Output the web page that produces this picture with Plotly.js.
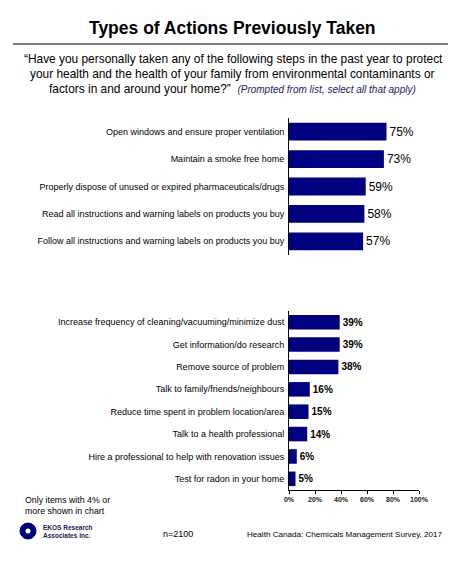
<!DOCTYPE html>
<html><head><meta charset="utf-8">
<script src="https://cdn.plot.ly/plotly-3.0.1.min.js"></script>
<style>html,body{margin:0;padding:0;background:#fff}#chart{width:475px;height:575px}</style>
</head><body><div id="chart"></div>
<script>
const topCategories = [
  "Open windows and ensure proper ventilation",
  "Maintain a smoke free home",
  "Properly dispose of unused or expired pharmaceuticals/drugs",
  "Read all instructions and warning labels on products you buy",
  "Follow all instructions and warning labels on products you buy"
];
const topValues = [75, 73, 59, 58, 57];

const bottomCategories = [
  "Increase frequency of cleaning/vacuuming/minimize dust",
  "Get information/do research",
  "Remove source of problem",
  "Talk to family/friends/neighbours",
  "Reduce time spent in problem location/area",
  "Talk to a health professional",
  "Hire a professional to help with renovation issues",
  "Test for radon in your home"
];
const bottomValues = [39, 39, 38, 16, 15, 14, 6, 5];

const xTickValues = [0, 20, 40, 60, 80, 100];
const xTickLabels = ["0%", "20%", "40%", "60%", "80%", "100%"];

const W = 475, H = 575;
const px = x => x / W;
const py = y => 1 - y / H;
const SANS = "'Liberation Sans', Arial, sans-serif";
const NAVY = "#000080";

const traces = [
  {
    type: 'bar', orientation: 'h',
    x: topValues, y: topCategories,
    xaxis: 'x', yaxis: 'y',
    marker: {color: NAVY},
    text: topValues.map(v => v + '%'),
    textposition: 'outside',
    textfont: {family: SANS, size: 12, color: '#000'},
    cliponaxis: false, hoverinfo: 'none'
  },
  {
    type: 'bar', orientation: 'h',
    x: bottomValues, y: bottomCategories,
    xaxis: 'x2', yaxis: 'y2',
    marker: {color: NAVY},
    text: bottomValues.map(v => v + '%'),
    textposition: 'outside',
    textfont: {family: SANS, size: 10, color: '#000', weight: 'bold'},
    cliponaxis: false, hoverinfo: 'none'
  }
];

const layout = {
  width: W, height: H,
  margin: {l: 0, r: 0, t: 0, b: 0},
  paper_bgcolor: '#fff', plot_bgcolor: '#fff',
  showlegend: false,
  bargap: 0.35,
  xaxis: {
    domain: [px(289), px(419)], range: [0, 100], visible: false, fixedrange: true
  },
  yaxis: {
    domain: [py(255), py(118)], autorange: 'reversed', type: 'category',
    showline: true, linecolor: '#000', linewidth: 1, ticks: '',
    showgrid: false, zeroline: false,
    tickfont: {family: SANS, size: 9, color: '#000'},
    ticklabelstandoff: 2
  },
  xaxis2: {
    anchor: 'y2',
    domain: [px(289), px(419)], range: [0, 100],
    showline: true, linecolor: '#000', linewidth: 1,
    ticks: 'outside', ticklen: 3, tickcolor: '#000', tickwidth: 1,
    tickvals: xTickValues, ticktext: xTickLabels,
    tickfont: {family: SANS, size: 7, color: '#222', weight: 'bold'},
    showgrid: false, zeroline: false
  },
  yaxis2: {
    anchor: 'x2',
    domain: [py(490), py(311)], autorange: 'reversed', type: 'category',
    showline: true, linecolor: '#000', linewidth: 1, ticks: '',
    showgrid: false, zeroline: false,
    tickfont: {family: SANS, size: 9, color: '#000'},
    ticklabelstandoff: 2
  },
  shapes: [
    {type: 'line', xref: 'paper', yref: 'paper', x0: px(13), x1: px(448), y0: py(44), y1: py(44),
     line: {color: '#000', width: 1.2}},
    // logo
    {type: 'circle', xref: 'paper', yref: 'paper', x0: px(20), x1: px(36), y0: py(539), y1: py(523),
     fillcolor: NAVY, line: {color: NAVY, width: 1}},
    {type: 'circle', xref: 'paper', yref: 'paper', x0: px(25.5), x1: px(30.5), y0: py(533.5), y1: py(528.5),
     fillcolor: '#fff', line: {width: 0}}
  ],
  annotations: [
    {xref: 'paper', yref: 'paper', x: px(232), y: py(28), xanchor: 'center', yanchor: 'middle',
     text: 'Types of Actions Previously Taken', showarrow: false,
     font: {family: SANS, size: 17.5, color: '#000', weight: 'bold'}},
    {xref: 'paper', yref: 'paper', x: px(233), y: py(59), xanchor: 'center', yanchor: 'middle',
     text: '“Have you personally taken any of the following steps in the past year to protect', showarrow: false,
     font: {family: SANS, size: 11.9, color: '#000'}},
    {xref: 'paper', yref: 'paper', x: px(232.5), y: py(74), xanchor: 'center', yanchor: 'middle',
     text: 'your health and the health of your family from environmental contaminants or', showarrow: false,
     font: {family: SANS, size: 11.9, color: '#000'}},
    {xref: 'paper', yref: 'paper', x: px(232), y: py(89), xanchor: 'center', yanchor: 'middle',
     text: 'factors in and around your home?”  <i><span style="font-size:10px;color:#1a1a70">(Prompted from list, select all that apply)</span></i>', showarrow: false,
     font: {family: SANS, size: 11.9, color: '#000'}},
    {xref: 'paper', yref: 'paper', x: px(23), y: py(505), xanchor: 'left', yanchor: 'middle', align: 'left',
     text: 'Only items with 4% or<br>more shown in chart', showarrow: false,
     font: {family: SANS, size: 8.8, color: '#000'}},
    {xref: 'paper', yref: 'paper', x: px(41), y: py(531), xanchor: 'left', yanchor: 'middle', align: 'left',
     text: 'EKOS Research<br>Associates Inc.', showarrow: false,
     font: {family: SANS, size: 6.5, color: '#1a1a50', weight: 'bold'}},
    {xref: 'paper', yref: 'paper', x: px(178), y: py(534), xanchor: 'center', yanchor: 'middle',
     text: 'n=2100', showarrow: false,
     font: {family: SANS, size: 9, color: '#000'}},
    {xref: 'paper', yref: 'paper', x: px(445), y: py(534), xanchor: 'right', yanchor: 'middle',
     text: 'Health Canada: Chemicals Management Survey, 2017', showarrow: false,
     font: {family: SANS, size: 8.1, color: '#000'}}
  ]
};

Plotly.newPlot('chart', traces, layout, {displayModeBar: false, staticPlot: true});
</script>
</body></html>
